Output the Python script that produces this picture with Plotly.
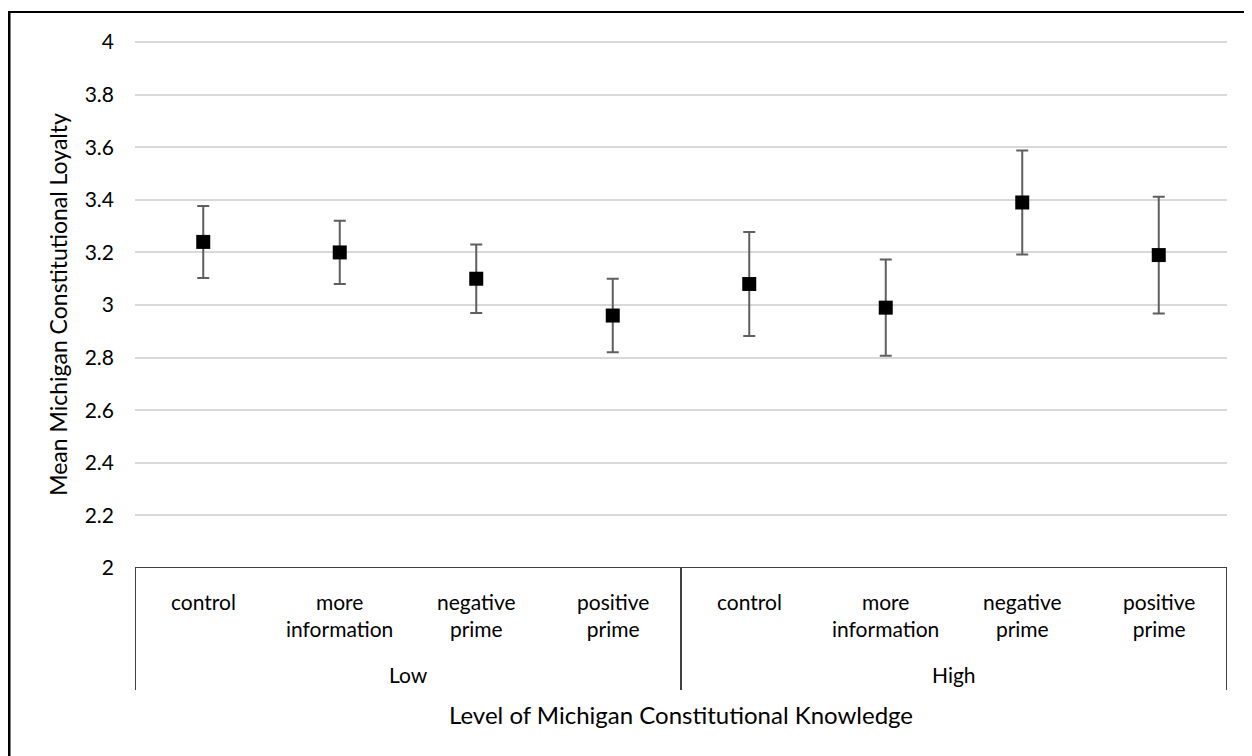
import plotly.graph_objects as go

groups = ["Low", "High"]
conditions = ["control", "more<br>information", "negative<br>prime", "positive<br>prime"]
means = [3.24, 3.20, 3.10, 2.96, 3.08, 2.99, 3.39, 3.19]
errors = [0.137, 0.12, 0.13, 0.14, 0.198, 0.183, 0.198, 0.222]
y_ticks = [2, 2.2, 2.4, 2.6, 2.8, 3, 3.2, 3.4, 3.6, 3.8, 4]

OFF = 8  # page body margin
W, H = 1252 - OFF, 756 - OFF
# plot area in screen pixels
L, R, T, B = 135, 1227, 41, 568
pw, ph = R - L, B - T

def px(x):
    return (x - L) / pw

def py(y):
    return (B - y) / ph

FONT = "Lato, Open Sans, sans-serif"
n = len(groups) * len(conditions)
xs = list(range(n))

fig = go.Figure()
fig.add_trace(go.Scatter(
    x=xs, y=means, mode="markers",
    marker=dict(symbol="square", size=14, color="black"),
    error_y=dict(type="data", array=errors, visible=True, color="#5f5f5f", thickness=2, width=6),
    showlegend=False,
))

shapes = []
# outer chart border (left and top visible)
shapes.append(dict(type="line", xref="paper", yref="paper", x0=px(9), x1=px(9), y0=py(770), y1=py(12),
                   line=dict(color="black", width=3)))
shapes.append(dict(type="line", xref="paper", yref="paper", x0=px(8), x1=px(1270), y0=py(12), y1=py(12),
                   line=dict(color="black", width=2)))
# category box
shapes.append(dict(type="line", xref="x", yref="y", x0=-0.5, x1=n - 0.5, y0=2, y1=2, line=dict(color="black", width=1.5)))
for xb in [-0.5, len(conditions) - 0.5, n - 0.5]:
    shapes.append(dict(type="line", xref="x", yref="paper", x0=xb, x1=xb, y0=py(690), y1=0,
                       line=dict(color="black", width=1.5)))

annotations = []
for gi, g in enumerate(groups):
    for ci, c in enumerate(conditions):
        annotations.append(dict(x=gi * len(conditions) + ci, y=py(587), xref="x", yref="paper",
                                text=c, showarrow=False, yanchor="top",
                                font=dict(family=FONT, size=21, color="black")))
    annotations.append(dict(x=gi * len(conditions) + (len(conditions) - 1) / 2, y=py(674), xref="x", yref="paper",
                            text=g, showarrow=False, yanchor="middle",
                            font=dict(family=FONT, size=21, color="black")))
annotations.append(dict(x=0.5, y=py(714), xref="paper", yref="paper",
                        text="Level of Michigan Constitutional Knowledge", showarrow=False, yanchor="middle",
                        font=dict(family=FONT, size=24, color="black")))

fig.update_layout(
    width=W, height=H,
    margin=dict(l=L - OFF, r=W - (R - OFF), t=T - OFF, b=H - (B - OFF)),
    plot_bgcolor="white", paper_bgcolor="white",
    shapes=shapes, annotations=annotations,
    xaxis=dict(range=[-0.5, n - 0.5], showticklabels=False, showgrid=False, zeroline=False, showline=False, ticks=""),
    yaxis=dict(range=[2, 4.004], tickvals=y_ticks, ticktext=[f"{v:g}" for v in y_ticks],
               showgrid=True, gridcolor="#d9d9d9", gridwidth=1.5, zeroline=False, showline=False,
               ticks="", ticklabelstandoff=20,
               tickfont=dict(family=FONT, size=21, color="black"),
               title=dict(text="Mean Michigan Constitutional Loyalty", standoff=10,
                          font=dict(family=FONT, size=23, color="black"))),
)

fig.write_html("out.html")
